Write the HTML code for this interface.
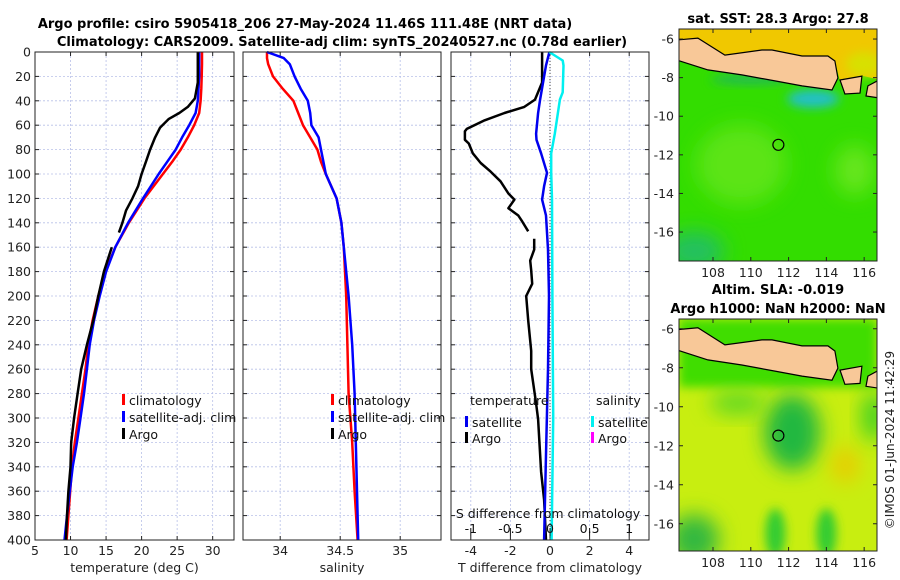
<!DOCTYPE html>
<html><head><meta charset="utf-8"><style>
html,body{margin:0;padding:0;background:#fff;}
svg{display:block;font-family:"DejaVu Sans","Liberation Sans",sans-serif;}
</style></head><body>
<svg id="fig" width="900" height="580" viewBox="0 0 900 580" xmlns="http://www.w3.org/2000/svg">
<defs>
<filter id="blur1" x="-50%" y="-50%" width="200%" height="200%"><feGaussianBlur stdDeviation="10"/></filter>
<filter id="blur2" x="-50%" y="-50%" width="200%" height="200%"><feGaussianBlur stdDeviation="5"/></filter>
<clipPath id="clipM1"><rect x="679" y="29" width="198" height="232"/></clipPath>
<clipPath id="clipM2"><rect x="679" y="319" width="198" height="232"/></clipPath>
</defs>
<text x="305" y="28" text-anchor="middle" font-size="13" font-weight="bold">Argo profile: csiro 5905418_206 27-May-2024 11.46S 111.48E (NRT data)</text>
<text x="342" y="46" text-anchor="middle" font-size="13" font-weight="bold">Climatology: CARS2009. Satellite-adj clim: synTS_20240527.nc (0.78d earlier)</text>
<g id="plots"></g>
<g id="maps"></g>
<text transform="translate(894,440) rotate(-90)" text-anchor="middle" font-size="12" fill="#222">©IMOS 01-Jun-2024 11:42:29</text>
</svg>
<script>
// ---- data ----
const tDepth = [0,10,20,30,40,50,60,70,80,90,100,120,140,160,180,200,220,240,260,280,300,320,340,360,380,400];
const tClim = [28.5,28.5,28.45,28.4,28.3,28.1,27.4,26.5,25.5,24.3,23.0,20.4,18.2,16.3,14.9,13.9,13.1,12.5,12.1,11.6,11.1,10.6,10.2,9.95,9.7,9.45];
const tSat = [28.1,28.1,28.1,28.0,27.9,27.6,26.7,25.7,24.8,23.6,22.4,20.2,18.1,16.3,15.0,14.1,13.3,12.7,12.3,11.9,11.4,10.9,10.3,9.9,9.5,9.15];
const argoDepth = [0,25,38,45,50,55,62,70,80,90,100,110,120,130,140,148,150,160,180,200,220,240,260,280,300,320,340,360,380,400];
const argoT = [27.9,27.9,27.5,26.5,25.3,23.8,22.6,21.9,21.2,20.6,20.0,19.5,18.7,17.8,17.3,16.8,null,15.8,14.7,13.9,13.2,12.3,11.5,11.0,10.5,10.1,10.0,9.7,9.5,9.35];
const sDepth = [0,5,10,20,30,40,50,60,70,80,90,100,120,140,160,180,200,240,280,320,360,400];
const sClim = [33.89,33.89,33.9,33.94,34.02,34.11,34.15,34.19,34.25,34.31,34.34,34.38,34.47,34.51,34.53,34.54,34.55,34.56,34.57,34.6,34.62,34.645];
const sSat = [33.89,34.03,34.08,34.12,34.17,34.23,34.25,34.26,34.32,34.34,34.36,34.38,34.47,34.51,34.53,34.55,34.57,34.6,34.62,34.63,34.64,34.65];
const dArgoDepth = [0,25,39,45,50,56,63,65,72,75,83,91,98,106,116,121,128,134,139,147,150,153,162,171,179,190,200,220,245,260,288,301,344,367,400];
const dArgoT = [-0.4,-0.4,-0.76,-1.3,-2.3,-3.3,-4.2,-4.3,-4.3,-4.1,-3.9,-3.5,-3.0,-2.5,-2.1,-1.8,-2.1,-1.6,-1.4,-1.1,null,-0.8,-0.8,-1.0,-0.95,-0.9,-1.2,-1.1,-0.95,-0.95,-0.7,-0.6,-0.45,-0.3,-0.2];
const dSatDepth = [0,11,39,50,67,72,83,99,110,121,134,162,200,260,330,400];
const dSatT = [-0.03,-0.2,-0.5,-0.6,-0.7,-0.68,-0.45,-0.15,-0.3,-0.4,-0.2,-0.1,-0.05,-0.1,-0.2,-0.3];
const dSatSDepth = [0,7,11,33,39,67,83,99,121,200,300,400];
const dSatS = [-0.01,0.16,0.17,0.16,0.125,0.06,0.015,0.015,0.025,0.03,0.04,0.02];
const depthTicks = [0,20,40,60,80,100,120,140,160,180,200,220,240,260,280,300,320,340,360,380,400];
const tTicks = [5,10,15,20,25,30];
const sTicks = [34,34.5,35];
const dTTicks = [-4,-2,0,2,4];
const dSTicks = [-1,-0.5,0,0.5,1];
const lonTicks = [108,110,112,114,116];
const latTicks = [-6,-8,-10,-12,-14,-16];
const floatLon = 111.46, floatLat = -11.48;

const NS='http://www.w3.org/2000/svg';
function mk(tag, attrs, parent){const e=document.createElementNS(NS,tag);for(const k in attrs)e.setAttribute(k,attrs[k]);(parent||document.getElementById('plots')).appendChild(e);return e;}
const Y0=52, Y1=540;
const yD = d => Y0 + d*(Y1-Y0)/400;
function lin(d0,d1,r0,r1){return v=>r0+(v-d0)*(r1-r0)/(d1-d0);}
const P1 = {x0:35,x1:234,f:lin(5,33,35,234)};
const P2 = {x0:243,x1:441,f:lin(33.69,35.34,243,441)};
const P3 = {x0:451,x1:649,f:lin(-5,5,451,649)};
const sx3 = lin(-1.25,1.25,451,649);

function panel(P, xTicks, fmt, name, xlabel, yLabels){
  const g=mk('g',{});
  
  
  mk('rect',{x:P.x0,y:Y0,width:P.x1-P.x0,height:Y1-Y0,fill:'#fff'},g);
  depthTicks.forEach(d=>{
    const l=mk('line',{x1:P.x0,x2:P.x1,y1:yD(d),y2:yD(d),stroke:'#b8c0e8','stroke-width':0.8,'stroke-dasharray':'2,2'},g);
     
    mk('line',{x1:P.x0,x2:P.x0+4,y1:yD(d),y2:yD(d),stroke:'#222'},g);
    mk('line',{x1:P.x1-4,x2:P.x1,y1:yD(d),y2:yD(d),stroke:'#222'},g);
    if(yLabels){const t=mk('text',{x:P.x0-4,y:yD(d)+4.5,'text-anchor':'end','font-size':12.5,fill:'#222'},g);t.textContent=d;
       }
  });
  xTicks.forEach(v=>{
    const x=P.f(v);
    mk('line',{x1:x,x2:x,y1:Y0,y2:Y1,stroke:'#b8c0e8','stroke-width':0.8,'stroke-dasharray':'2,2'},g);
    mk('line',{x1:x,x2:x,y1:Y1,y2:Y1-4,stroke:'#222'},g);
    mk('line',{x1:x,x2:x,y1:Y0,y2:Y0+4,stroke:'#222'},g);
    const t=mk('text',{x:x,y:555,'text-anchor':'middle','font-size':12.5,fill:'#222'},g);t.textContent=fmt(v);
     
  });
  const xl=mk('text',{x:(P.x0+P.x1)/2,y:572,'text-anchor':'middle','font-size':12.5,fill:'#222'},g);xl.textContent=xlabel;
   
  return g;
}
function line(g, depths, vals, fx, color, w, name){
  let d='',pen=false;
  depths.forEach((dep,i)=>{const v=vals[i]; if(v===null){pen=false;return;}
    d+=(pen?'L':'M')+fx(v).toFixed(1)+','+yD(dep).toFixed(1); pen=true;});
  const p=mk('path',{d:d,fill:'none',stroke:color,'stroke-width':w,'stroke-linejoin':'round'},g);
  
  
  return p;
}
function legend(g, x, y, color, label, name){
  mk('rect',{x:x,y:y-6,width:3,height:11,fill:color},g);
  const t=mk('text',{x:x+7,y:y+5,'font-size':12.5,fill:'#111'},g);t.textContent=label;
  
  
}
function frame(g,P){mk('rect',{x:P.x0,y:Y0,width:P.x1-P.x0,height:Y1-Y0,fill:'none',stroke:'#222','stroke-width':1},g);}

// Panel 1 temperature
const g1=panel(P1,tTicks,v=>v,'temperature-panel','temperature (deg C)',true);
line(g1,tDepth,tClim,P1.f,'#ff0000',2.5,'temp-climatology-line');
line(g1,tDepth,tSat,P1.f,'#0000ff',2.5,'temp-satellite-line');
line(g1,argoDepth,argoT,P1.f,'#000',2.5,'temp-argo-line');
legend(g1,122,400,'#ff0000','climatology','legend-climatology');
legend(g1,122,417,'#0000ff','satellite-adj. clim','legend-satellite');
legend(g1,122,434,'#000','Argo','legend-argo');
frame(g1,P1);

// Panel 2 salinity
const g2=panel(P2,sTicks,v=>v,'salinity-panel','salinity',false);
line(g2,sDepth,sClim,P2.f,'#ff0000',2.5,'sal-climatology-line');
line(g2,sDepth,sSat,P2.f,'#0000ff',2.5,'sal-satellite-line');
legend(g2,331,400,'#ff0000','climatology','legend-sal-climatology');
legend(g2,331,417,'#0000ff','satellite-adj. clim','legend-sal-satellite');
legend(g2,331,434,'#000','Argo','legend-sal-argo');
frame(g2,P2);

// Panel 3 differences
const g3=panel(P3,dTTicks,v=>v,'difference-panel','T difference from climatology',false);
mk('line',{x1:P3.f(0),x2:P3.f(0),y1:Y0,y2:Y1,stroke:'#444','stroke-width':1,'stroke-dasharray':'1,2'},g3);
line(g3,dArgoDepth,dArgoT,P3.f,'#000',2.5,'tdiff-argo-line');
line(g3,dSatDepth,dSatT,P3.f,'#0000ee',2.5,'tdiff-satellite-line');
line(g3,dSatSDepth,dSatS,sx3,'#00f0f0',2.5,'sdiff-satellite-line');
const ht=mk('text',{x:470,y:405,'font-size':12.5,fill:'#111'},g3);ht.textContent='temperature';


const hs=mk('text',{x:596,y:405,'font-size':12.5,fill:'#111'},g3);hs.textContent='salinity';


legend(g3,465,422,'#0000ee','satellite','legend-t-satellite');
legend(g3,465,438,'#000','Argo','legend-t-argo');
legend(g3,591,422,'#00f0f0','satellite','legend-s-satellite');
legend(g3,591,438,'#ff00ff','Argo','legend-s-argo');
const st=mk('text',{x:548,y:518,'text-anchor':'middle','font-size':12.5,fill:'#111'},g3);st.textContent='S difference from climatology';


dSTicks.forEach(v=>{const x=sx3(v);
  mk('line',{x1:x,x2:x,y1:528,y2:536,stroke:'#111'},g3);
  const t=mk('text',{x:x,y:533,'text-anchor':'middle','font-size':12.5,fill:'#111'},g3);t.textContent=v;
  
  
});
frame(g3,P3);

// ---- maps ----
const mapsG=document.getElementById('maps');
const MX0=679, MX1=877;
const lonF=lin(106.2,116.68,MX0,MX1);
const land=[[106.1,-6.05],[107.2,-5.95],[108.63,-6.83],[110.59,-6.57],[111.12,-6.57],[112.71,-6.88],[114.08,-6.88],[114.45,-7.14],[114.61,-8.02],[114.3,-8.64],[112.71,-8.43],[111.28,-8.17],[109.53,-7.86],[107.73,-7.6],[106.1,-7.09]];
const bali=[[114.72,-8.12],[115.88,-7.92],[115.78,-8.8],[114.98,-8.85]];
const lombok=[[116.2,-8.43],[116.78,-8.12],[116.78,-9.05],[116.1,-8.95]];
const northSea=[[106.1,-5.3],[116.8,-5.3],[116.8,-8.1],[115.9,-7.9],[114.7,-8.1],[114.45,-7.14],[114.08,-6.88],[112.71,-6.88],[111.12,-6.57],[110.59,-6.57],[108.63,-6.83],[107.2,-5.95],[106.1,-6.05]];
function map(y0, latTop, pxDeg, title1, title2, kind, name){
  const g=mk('g',{},mapsG);
  
  
  const latF=v=>y0+(latTop-v)*pxDeg;
  const P=poly=>poly.map(p=>lonF(p[0]).toFixed(1)+','+latF(p[1]).toFixed(1)).join(' ');
  const inner=mk('g',{'clip-path':kind===1?'url(#clipM1)':'url(#clipM2)'},g);
  const W=MX1-MX0, H=232;
  if(kind===1){
    mk('rect',{x:MX0,y:y0,width:W,height:H,fill:'#33dd00'},inner);
    mk('ellipse',{cx:lonF(109.5),cy:latF(-12.5),rx:45,ry:40,fill:'#5ce414',filter:'url(#blur1)'},inner);
    mk('ellipse',{cx:lonF(115.5),cy:latF(-12.8),rx:20,ry:25,fill:'#66e61a',filter:'url(#blur1)'},inner);
    mk('ellipse',{cx:lonF(107),cy:latF(-17),rx:30,ry:20,fill:'#22c060',filter:'url(#blur1)'},inner);
    mk('ellipse',{cx:lonF(113.3),cy:latF(-9.1),rx:26,ry:9,fill:'#20c0c8',filter:'url(#blur2)'},inner);
    mk('ellipse',{cx:lonF(110),cy:latF(-8.1),rx:40,ry:5,fill:'#20b858',filter:'url(#blur2)'},inner);
    mk('polygon',{points:P(northSea),fill:'#f0c800'},inner);
    mk('ellipse',{cx:lonF(116),cy:latF(-7.3),rx:18,ry:12,fill:'#d8e000',filter:'url(#blur2)'},inner);
  } else {
    mk('rect',{x:MX0,y:y0,width:W,height:H,fill:'#c8ee10'},inner);
    mk('rect',{x:MX0,y:y0,width:W,height:latF(-9)-y0,fill:'#40dd00',filter:'url(#blur2)'},inner);
    mk('ellipse',{cx:lonF(112.2),cy:latF(-11.3),rx:28,ry:38,fill:'#20b840',filter:'url(#blur1)'},inner);
    mk('ellipse',{cx:lonF(109.3),cy:latF(-9.8),rx:28,ry:12,fill:'#60d820',filter:'url(#blur1)'},inner);
    mk('ellipse',{cx:lonF(115),cy:latF(-13),rx:14,ry:18,fill:'#e8cc00',filter:'url(#blur1)'},inner);
    mk('ellipse',{cx:lonF(116.5),cy:latF(-10.5),rx:12,ry:25,fill:'#40d020',filter:'url(#blur1)'},inner);
    mk('ellipse',{cx:lonF(111.3),cy:latF(-16.5),rx:10,ry:25,fill:'#30cc30',filter:'url(#blur2)'},inner);
    mk('ellipse',{cx:lonF(114),cy:latF(-16.5),rx:10,ry:25,fill:'#30cc30',filter:'url(#blur2)'},inner);
    mk('ellipse',{cx:lonF(107),cy:latF(-16.8),rx:25,ry:25,fill:'#30b840',filter:'url(#blur1)'},inner);
  }
  [land,bali,lombok].forEach((poly,i)=>{
    const pg=mk('polygon',{points:P(poly),fill:'#f8c898',stroke:'#000','stroke-width':1.2},inner);
    
    
  });
  const c=mk('circle',{cx:lonF(floatLon),cy:latF(floatLat),r:5.5,fill:'none',stroke:'#000','stroke-width':1.2},g);
  
  
  mk('rect',{x:MX0,y:y0,width:W,height:H,fill:'none',stroke:'#222'},g);
  lonTicks.forEach(v=>{const x=lonF(v);
    mk('line',{x1:x,x2:x,y1:y0+H,y2:y0+H-4,stroke:'#222'},g);
    mk('line',{x1:x,x2:x,y1:y0,y2:y0+4,stroke:'#222'},g);
    const t=mk('text',{x:x,y:y0+H+16,'text-anchor':'middle','font-size':12.5,fill:'#222'},g);t.textContent=v;
    
    
  });
  latTicks.forEach(v=>{const y=latF(v);
    mk('line',{x1:MX0,x2:MX0+4,y1:y,y2:y,stroke:'#222'},g);
    mk('line',{x1:MX1-4,x2:MX1,y1:y,y2:y,stroke:'#222'},g);
    const t=mk('text',{x:MX0-5,y:y+4.5,'text-anchor':'end','font-size':12.5,fill:'#222'},g);t.textContent=v;
    
    
  });
  const t1=mk('text',{x:778,y:kind===1?23:294,'text-anchor':'middle','font-size':13,'font-weight':'bold'},g);t1.textContent=title1;
  
  
  if(title2){const t2=mk('text',{x:778,y:313,'text-anchor':'middle','font-size':13,'font-weight':'bold'},g);t2.textContent=title2;
    
    }
}
map(29,-5.48,19.3,'sat. SST: 28.3 Argo: 27.8',null,1,'sst-map');
map(319,-5.5,19.5,'Altim. SLA: -0.019','Argo h1000: NaN h2000: NaN',2,'sla-map');
</script>
</body></html>
